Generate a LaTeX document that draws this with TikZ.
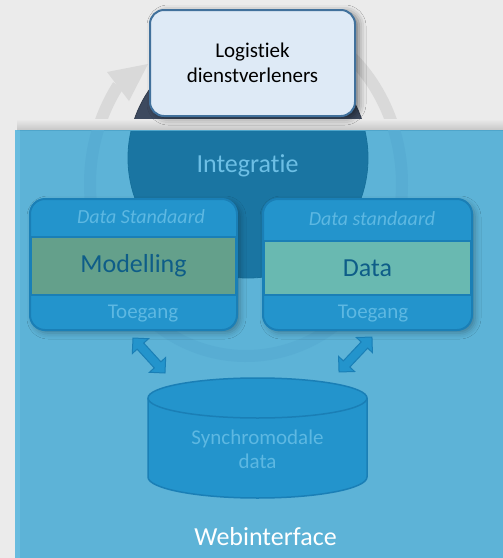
\documentclass[tikz,border=0pt]{standalone}
\usepackage{fontspec}
\setmainfont{Carlito}[Ligatures={NoCommon,NoContextual}]
\usetikzlibrary{shadows.blur}

\definecolor{pagebg}{HTML}{EBEBEB}
\definecolor{ringgray}{HTML}{D9D9D9}
\definecolor{ringpanel}{HTML}{58ADD3}
\definecolor{circdark}{HTML}{3D4A5F}
\definecolor{panelblue}{RGB}{6,145,204}
\definecolor{panelrim}{HTML}{74C6E8}
\definecolor{topfill}{HTML}{DEEAF6}
\definecolor{topline}{HTML}{41719C}
\definecolor{boxblue}{HTML}{2394CC}
\definecolor{boxline}{HTML}{1A7FB6}
\definecolor{softblue}{HTML}{5DB8E2}
\definecolor{modelgreen}{HTML}{64A08B}
\definecolor{datateal}{HTML}{69B9B1}
\definecolor{deepblue}{HTML}{0E5D88}

\tikzset{
  topbox/.style={draw=topline, line width=2pt, fill=topfill, rounded corners=14pt,
    inner sep=0pt, align=center, text=black,
    font=\fontsize{21}{25}\selectfont,
    blur shadow={shadow xshift=4pt, shadow yshift=-2pt, shadow blur radius=7pt, shadow opacity=50}},
  stdbox/.style={draw=boxline, line width=2pt, fill=boxblue, rounded corners=15pt,
    inner sep=0pt,
    blur shadow={shadow xshift=3pt, shadow yshift=-3pt, shadow blur radius=6pt, shadow opacity=30}},
  band/.style={draw=boxline, line width=2pt, inner sep=0pt, text=deepblue,
    font=\fontsize{26}{30}\selectfont},
  titletext/.style={text=softblue, inner sep=0pt, font=\fontsize{20}{24}\selectfont\itshape},
  accesstext/.style={text=softblue, inner sep=0pt, font=\fontsize{21}{24}\selectfont},
  bigsoft/.style={text=softblue!90!white, inner sep=0pt, font=\fontsize{26}{30}\selectfont},
  blockarrow/.style={fill=boxblue, draw=boxline, line width=1pt, line join=miter},
  cylbody/.style={fill=boxblue, draw=boxline, line width=1.5pt},
  ringpath/.style={line width=12pt}
}

\begin{document}
\begin{tikzpicture}[x=1pt, y=-1pt]
\useasboundingbox (0,0) rectangle (503,558);
\fill[pagebg] (0,0) rectangle (503,558);

% circular flow arrow: the part above the panel
\begin{scope}
  \clip (0,0) rectangle (503,130);
  \draw[ringgray, ringpath]
    (246,184) ++(50:156pt and 172pt)
    arc[start angle=50, end angle=-215, x radius=156pt, y radius=172pt];
\end{scope}
\fill[ringgray] (107,72) -- (148,64) -- (129,101) -- cycle;

% integration disc
\node[circle, fill=circdark, draw=circdark!80!black, line width=0.8pt,
      minimum size=240pt, inner sep=0pt] (integ) at (248,158) {};

% web interface panel, translucent over the disc
\shade[top color=pagebg, bottom color=black!22] (17,119) rectangle (503,130);
\fill[panelblue, fill opacity=0.62] (15,130) rectangle (503,558);
\fill[panelrim, fill opacity=0.5] (15,130) rectangle (20,558);

% circular flow arrow: the faint part seen through the panel
\begin{scope}
  \clip (20,130) rectangle (503,558);
  \draw[ringpanel, ringpath]
    (246,184) ++(50:156pt and 172pt)
    arc[start angle=50, end angle=-215, x radius=156pt, y radius=172pt];
\end{scope}

% top box
\node[topbox, minimum width=205pt, minimum height=106pt] (logi) at (252.5,63)
  {Logistiek\\dienstverleners};

\node[bigsoft] (integlbl) at (247.5,166) {Integratie};

% left block
\node[stdbox, minimum width=207pt, minimum height=131pt] (lbox) at (133.5,264.5) {};
\node[band, fill=modelgreen, minimum width=205pt, minimum height=58pt] (lband) at (133.5,266) {Modelling};
\node[titletext] (ltitle) at (141,217) {Data Standaard};
\node[accesstext] (lacc) at (143,314) {Toegang};

% right block
\node[stdbox, minimum width=209pt, minimum height=131pt] (rbox) at (367.5,264.5) {};
\node[band, fill=datateal, minimum width=207pt, minimum height=54pt] (rband) at (367.5,268) {Data};
\node[titletext] (rtitle) at (372,219) {Data standaard};
\node[accesstext] (racc) at (373,314) {Toegang};

% two-way block arrows
\begin{scope}[shift={(149,355.5)}, rotate=-47.6]
  \draw[blockarrow] (-23.7pt,0pt) -- (-12.7pt,11pt) -- (-12.7pt,4.5pt) -- (12.7pt,4.5pt)
    -- (12.7pt,11pt) -- (23.7pt,0pt) -- (12.7pt,-11pt) -- (12.7pt,-4.5pt)
    -- (-12.7pt,-4.5pt) -- (-12.7pt,-11pt) -- cycle;
\end{scope}
\begin{scope}[shift={(355.5,354.5)}, rotate=46.7]
  \draw[blockarrow] (-24pt,0pt) -- (-13pt,11pt) -- (-13pt,4.5pt) -- (13pt,4.5pt)
    -- (13pt,11pt) -- (24pt,0pt) -- (13pt,-11pt) -- (13pt,-4.5pt)
    -- (-13pt,-4.5pt) -- (-13pt,-11pt) -- cycle;
\end{scope}

% data store cylinder
\draw[cylbody] (148,398) -- (148,477)
  arc[start angle=180, end angle=360, x radius=109.5pt, y radius=21pt]
  -- (367,398)
  arc[start angle=0, end angle=180, x radius=109.5pt, y radius=20pt] -- cycle;
\draw[boxline, line width=1.5pt] (148,398)
  arc[start angle=180, end angle=360, x radius=109.5pt, y radius=20pt];
\node[accesstext, align=center, font=\fontsize{21}{24}\selectfont] (syncdb) at (257.5,449)
  {Synchromodale\\data};

\node[text=white, inner sep=0pt, font=\fontsize{26}{30}\selectfont] (web) at (265.5,537) {Webinterface};
\end{tikzpicture}
\end{document}
